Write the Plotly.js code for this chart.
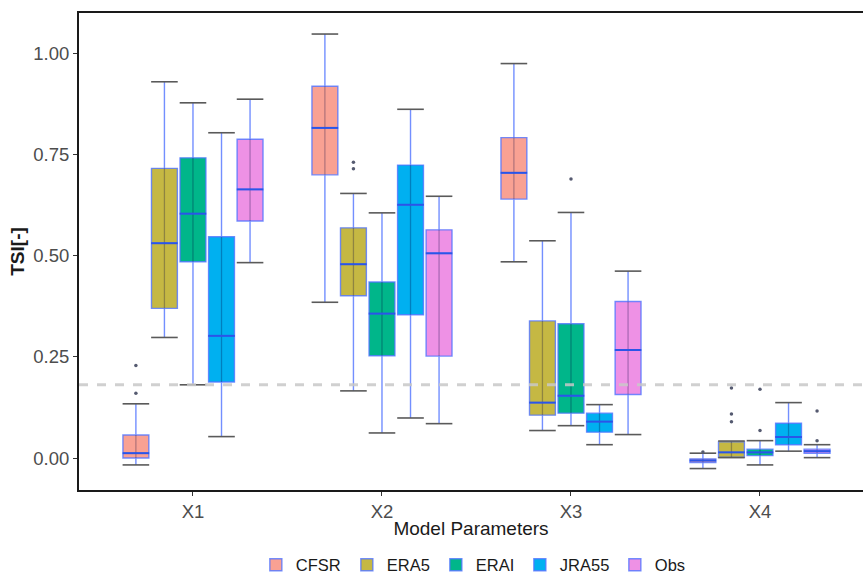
<!DOCTYPE html>
<html>
<head>
<meta charset="utf-8">
<script src="https://cdn.plot.ly/plotly-3.0.1.min.js"></script>
<style>html,body{margin:0;padding:0;background:#fff;overflow:hidden}#chart{width:863px;height:574px}</style>
</head>
<body>
<div id="chart"></div>
<script>
// ---- data ----
const groups = ['X1', 'X2', 'X3', 'X4'];
const seriesNames = ['CFSR', 'ERA5', 'ERAI', 'JRA55', 'Obs'];
const threshold = 0.181;

const cfsrLower  = [-0.017, 0.385, 0.485, -0.026];
const cfsrQ1     = [0.000, 0.700, 0.640, -0.011];
const cfsrMedian = [0.012, 0.816, 0.705, -0.006];
const cfsrQ3     = [0.057, 0.919, 0.792, -0.002];
const cfsrUpper  = [0.134, 1.048, 0.975, 0.012];
const cfsrOutliers = [[0.160, 0.229], [], [], [0.015]];

const era5Lower  = [0.298, 0.166, 0.068, 0.001];
const era5Q1     = [0.370, 0.401, 0.106, 0.002];
const era5Median = [0.531, 0.479, 0.137, 0.014];
const era5Q3     = [0.716, 0.569, 0.339, 0.040];
const era5Upper  = [0.930, 0.654, 0.537, 0.042];
const era5Outliers = [[], [0.715, 0.731], [], [0.090, 0.109, 0.173]];

const eraiLower  = [0.181, 0.062, 0.080, -0.017];
const eraiQ1     = [0.485, 0.253, 0.111, 0.006];
const eraiMedian = [0.604, 0.357, 0.154, 0.014];
const eraiQ3     = [0.742, 0.435, 0.332, 0.022];
const eraiUpper  = [0.878, 0.606, 0.607, 0.043];
const eraiOutliers = [[], [], [0.690], [0.068, 0.170]];

const jra55Lower  = [0.053, 0.099, 0.033, 0.017];
const jra55Q1     = [0.188, 0.354, 0.064, 0.033];
const jra55Median = [0.302, 0.626, 0.090, 0.052];
const jra55Q3     = [0.547, 0.724, 0.111, 0.086];
const jra55Upper  = [0.804, 0.862, 0.132, 0.137];
const jra55Outliers = [[], [], [], []];

const obsLower  = [0.483, 0.085, 0.058, 0.001];
const obsQ1     = [0.586, 0.252, 0.157, 0.012];
const obsMedian = [0.664, 0.506, 0.267, 0.017];
const obsQ3     = [0.788, 0.564, 0.387, 0.022];
const obsUpper  = [0.887, 0.647, 0.462, 0.033];
const obsOutliers = [[], [], [], [0.043, 0.116]];

// ---- styles ----
const fillColors = ['#F9A193', '#C5B843', '#00B68A', '#00B0F0', '#EE91E5'];
const legendWidths = [46, 44, 39, 50, 31];

// ---- build ----
const stats = [
  [cfsrLower, cfsrQ1, cfsrMedian, cfsrQ3, cfsrUpper, cfsrOutliers],
  [era5Lower, era5Q1, era5Median, era5Q3, era5Upper, era5Outliers],
  [eraiLower, eraiQ1, eraiMedian, eraiQ3, eraiUpper, eraiOutliers],
  [jra55Lower, jra55Q1, jra55Median, jra55Q3, jra55Upper, jra55Outliers],
  [obsLower, obsQ1, obsMedian, obsQ3, obsUpper, obsOutliers]
];
const dodge = 0.151, boxW = 0.137, capPx = 19;
const boxTraces = [], overlay = [];
stats.forEach((s, si) => {
  const [lo, q1, med, q3, up, outs] = s;
  const xs = groups.map((g, gi) => gi + (si - 2) * dodge);
  boxTraces.push({
    type: 'box', name: seriesNames[si], x: xs,
    q1: q1, median: med, q3: q3, lowerfence: lo, upperfence: up,
    width: boxW, whiskerwidth: 0, legendwidth: legendWidths[si],
    fillcolor: fillColors[si],
    line: {color: 'rgba(80,115,255,0.8)', width: 1.4},
    hoverinfo: 'skip'
  });
  const tx = [], ty = [];
  xs.forEach((x, i) => { tx.push(x, x, null); ty.push(q1[i], q3[i], null); });
  overlay.push({type: 'scatter', mode: 'lines', x: tx, y: ty, showlegend: false, hoverinfo: 'skip',
    line: {color: 'rgba(0,0,60,0.28)', width: 1.3}});
  overlay.push({type: 'scatter', mode: 'markers', x: xs, y: med, showlegend: false, hoverinfo: 'skip',
    marker: {symbol: 'line-ew', size: capPx, line: {color: '#2A55E8', width: 2}}});
  overlay.push({type: 'scatter', mode: 'markers', x: xs.concat(xs), y: lo.concat(up), showlegend: false, hoverinfo: 'skip',
    marker: {symbol: 'line-ew', size: capPx, line: {color: '#5a5a5a', width: 1.6}}});
  const ox = [], oy = [];
  outs.forEach((arr, i) => arr.forEach(v => { ox.push(xs[i]); oy.push(v); }));
  overlay.push({type: 'scatter', mode: 'markers', x: ox, y: oy, showlegend: false, hoverinfo: 'skip',
    marker: {color: '#555a70', size: 3.5}});
});

const layout = {
  width: 863, height: 574,
  margin: {l: 79, r: 0, t: 13, b: 84, autoexpand: false},
  paper_bgcolor: '#fff', plot_bgcolor: '#fff',
  font: {family: 'Liberation Sans, Arial, sans-serif', color: '#4d4d4d', size: 18},
  showlegend: true,
  legend: {orientation: 'h', x: 0.503, xanchor: 'center', yref: 'container', y: 0.0157, yanchor: 'middle',
    font: {size: 16.5, color: '#1a1a1a'}, itemwidth: 30, tracegroupgap: 0},
  xaxis: {
    range: [-0.603, 3.545], tickvals: groups.map((g, i) => i), ticktext: groups,
    showgrid: false, zeroline: false, showline: true, mirror: true, linecolor: '#1a1a1a', linewidth: 2,
    ticks: 'outside', ticklen: 4, tickcolor: '#333', tickfont: {size: 18.5, color: '#4d4d4d'},
    title: {text: 'Model Parameters', font: {size: 19, color: '#1a1a1a'}, standoff: 0}
  },
  yaxis: {
    range: [-0.079, 1.100], tickvals: [0, 0.25, 0.5, 0.75, 1.0], tickformat: '.2f',
    showgrid: false, zeroline: false, showline: true, linecolor: '#1a1a1a', linewidth: 2,
    ticks: 'outside', ticklen: 4, tickcolor: '#333', tickfont: {size: 18.5, color: '#4d4d4d'},
    title: {text: '<b>TSI[-]</b>', font: {size: 19, color: '#1a1a1a'}, standoff: 4}
  },
  shapes: [{type: 'line', xref: 'paper', x0: 0, x1: 1, yref: 'y', y0: threshold, y1: threshold,
    line: {color: 'rgba(200,200,200,0.85)', width: 3, dash: 'dash'}, layer: 'above'}]
};

Plotly.newPlot('chart', boxTraces.concat(overlay), layout, {displayModeBar: false, staticPlot: true});
</script>
</body>
</html>
